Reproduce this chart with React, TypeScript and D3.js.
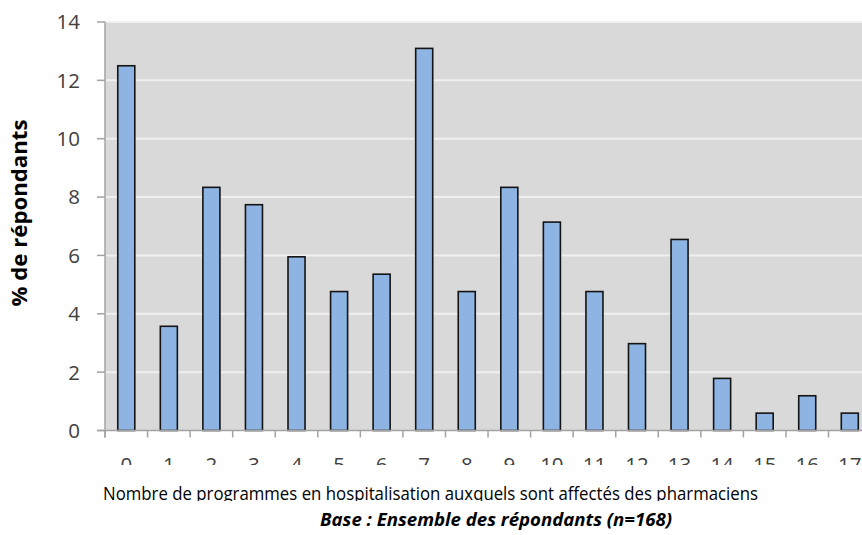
import React from "react";
import * as d3 from "d3";

// Number of programmes per pharmacist (categories) and share of respondents (%)
const categories: string[] = ["0", "1", "2", "3", "4", "5", "6", "7", "8", "9", "10", "11", "12", "13", "14", "15", "16", "17"];
const respondentCounts: number[] = [21, 6, 14, 13, 10, 8, 9, 22, 8, 14, 12, 8, 5, 11, 3, 1, 2, 1];
const totalRespondents = 168;
const percentages: number[] = respondentCounts.map((c) => (c / totalRespondents) * 100);
const yTicks: number[] = [0, 2, 4, 6, 8, 10, 12, 14];

const yAxisTitle = "% de répondants";
const xAxisTitle = "Nombre de programmes en hospitalisation auxquels sont affectés des pharmaciens";
const baseNote = "Base : Ensemble des répondants (n=168)";

const W = 862;
const H = 535;
const plotLeft = 105;
const plotTop = 22;
const plotBottom = 430.5;
const step = 42.56;
const plotRight = plotLeft + categories.length * step;

const FONT = "'Open Sans', 'DejaVu Sans', sans-serif";

export default function App() {
  const x = d3
    .scaleBand<string>()
    .domain(categories)
    .range([plotLeft, plotRight])
    .paddingInner(0.6)
    .paddingOuter(0.3);
  const y = d3.scaleLinear().domain([0, 14]).range([plotBottom, plotTop]);
  const bandStep = x.step();
  const bandStarts = d3.range(categories.length + 1).map((i) => plotLeft + i * bandStep);

  return (
    <svg
      width={W}
      height={H}
      style={{ position: "absolute", left: 0, top: 0, background: "#ffffff" }}
      fontFamily={FONT}
    >
      <defs>
        <clipPath id="tickClip">
          <rect x={0} y={440} width={W} height={25} />
        </clipPath>
        <clipPath id="titleClip">
          <rect x={0} y={470} width={W} height={31} />
        </clipPath>
      </defs>

      {/* plot background */}
      <rect x={plotLeft} y={plotTop} width={plotRight - plotLeft} height={plotBottom - plotTop} fill="#d9d9d9" />

      {/* horizontal gridlines */}
      {yTicks.slice(1).map((t) => (
        <line key={`g${t}`} x1={plotLeft} x2={plotRight} y1={y(t)} y2={y(t)} stroke="#efefef" strokeWidth={2} />
      ))}

      {/* bars */}
      {percentages.map((v, i) => (
        <rect
          key={categories[i]}
          x={x(categories[i])!}
          y={y(v)}
          width={x.bandwidth()}
          height={plotBottom - y(v)}
          fill="#8db4e2"
          stroke="#141414"
          strokeWidth={1.6}
        />
      ))}

      {/* y axis */}
      <line x1={plotLeft} x2={plotLeft} y1={plotTop} y2={plotBottom + 7} stroke="#a3a3a3" strokeWidth={1.5} />
      {yTicks.map((t) => (
        <g key={`y${t}`}>
          <line x1={plotLeft - 8} x2={plotLeft} y1={y(t)} y2={y(t)} stroke="#a3a3a3" strokeWidth={1.5} />
          <text x={80} y={y(t)} dy="0.36em" textAnchor="end" fontSize={20.5} fill="#404040">
            {t}
          </text>
        </g>
      ))}

      {/* x axis */}
      <line x1={plotLeft - 8} x2={plotRight} y1={plotBottom} y2={plotBottom} stroke="#a3a3a3" strokeWidth={1.5} />
      {bandStarts.map((bx, i) => (
        <line key={`xt${i}`} x1={bx} x2={bx} y1={plotBottom} y2={plotBottom + 7} stroke="#a3a3a3" strokeWidth={1.5} />
      ))}
      <g clipPath="url(#tickClip)">
        {categories.map((c) => (
          <text
            key={`xl${c}`}
            x={x(c)! + x.bandwidth() / 2}
            y={472}
            textAnchor="middle"
            fontSize={20.5}
            fill="#404040"
          >
            {c}
          </text>
        ))}
      </g>

      {/* axis titles */}
      <text
        transform={`translate(27,213) rotate(-90)`}
        textAnchor="middle"
        fontSize={21}
        fontWeight="bold"
        fill="#000"
        textLength={187}
        lengthAdjust="spacingAndGlyphs"
      >
        {yAxisTitle}
      </text>
      <g clipPath="url(#titleClip)">
        <text
          x={103}
          y={500}
          fontSize={18.5}
          fill="#000"
          textLength={655}
          lengthAdjust="spacingAndGlyphs"
        >
          {xAxisTitle}
        </text>
      </g>
      <text
        x={320}
        y={526}
        fontSize={17.5}
        fontWeight="bold"
        fontStyle="italic"
        fill="#000"
        textLength={352}
        lengthAdjust="spacingAndGlyphs"
      >
        {baseNote}
      </text>
    </svg>
  );
}
